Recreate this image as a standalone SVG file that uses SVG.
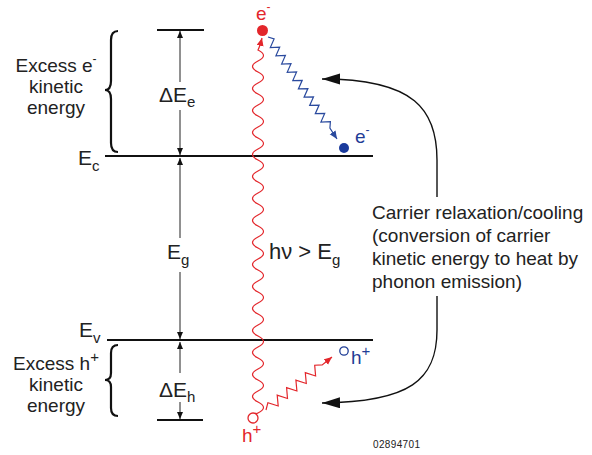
<svg xmlns="http://www.w3.org/2000/svg" width="592" height="455" viewBox="0 0 592 455">
<style>
text{font-family:"Liberation Sans",Arial,sans-serif;fill:#222}
.lbl{font-size:19px}
.big{font-size:21px}
.sub{font-size:15px}
.lvl{stroke:#111;stroke-width:2.2;fill:none}
.thin{stroke:#222;stroke-width:1;fill:none}
.brace{stroke:#111;stroke-width:2.2;fill:none}
.red{fill:#e3262b}
.blue{fill:#1f3d96}
</style>
<defs>
<marker id="ahK" markerUnits="userSpaceOnUse" markerWidth="8" markerHeight="8" refX="7" refY="3" orient="auto"><path d="M0,0 L7,3 L0,6 z" fill="#111"/></marker>
<marker id="ahR" markerUnits="userSpaceOnUse" markerWidth="9" markerHeight="8" refX="8" refY="3.5" orient="auto"><path d="M0,0 L8,3.5 L0,7 z" fill="#e3262b"/></marker>
<marker id="ahB" markerUnits="userSpaceOnUse" markerWidth="9" markerHeight="8" refX="8" refY="3.5" orient="auto"><path d="M0,0 L8,3.5 L0,7 z" fill="#2a4a9e"/></marker>
<marker id="ahBig" markerUnits="userSpaceOnUse" markerWidth="20" markerHeight="12" refX="18" refY="5.5" orient="auto"><path d="M0,0 L18,5.5 L0,11 z" fill="#111"/></marker>
</defs>

<g id="levels">
<path class="lvl" d="M157,30 H204"/>
<path class="lvl" d="M105,156 H373"/>
<path class="lvl" d="M107,340 H373"/>
<path class="lvl" d="M157,420 H203"/>
</g>

<g id="level-labels">
<text class="big" x="78" y="165">E<tspan class="sub" dy="6">c</tspan></text>
<text class="big" x="79" y="337">E<tspan class="sub" dy="6">v</tspan></text>
</g>

<g id="brace-e">
<path class="brace" d="M118,31 Q111,31 111,40 L111,81 Q111,90 105,90 Q111,90 111,99 L111,143 Q111,152 118,152"/>
<text class="lbl" x="56" y="72" text-anchor="middle">Excess e<tspan font-size="12" dy="-9">-</tspan></text>
<text class="lbl" x="56" y="93" text-anchor="middle">kinetic</text>
<text class="lbl" x="56" y="114" text-anchor="middle">energy</text>
</g>

<g id="brace-h">
<path class="brace" d="M118,345 Q111,345 111,353 L111,373 Q111,380 105,380 Q111,380 111,387 L111,408 Q111,416 118,416"/>
<text class="lbl" x="56" y="370" text-anchor="middle">Excess h<tspan font-size="15" dy="-8">+</tspan></text>
<text class="lbl" x="56" y="391" text-anchor="middle">kinetic</text>
<text class="lbl" x="56" y="412" text-anchor="middle">energy</text>
</g>

<g id="dEe"><text class="big" x="159" y="102">ΔE<tspan class="sub" dy="5">e</tspan></text></g>
<g id="Eg"><text class="big" x="167" y="259">E<tspan class="sub" dy="6">g</tspan></text></g>
<g id="dEh"><text class="big" x="159" y="397">ΔE<tspan class="sub" dy="5">h</tspan></text></g>
<g id="photon-label"><text font-size="22" x="269" y="259">hν &gt; E<tspan class="sub" dy="6">g</tspan></text></g>

<g id="electron-hot">
<circle cx="262.5" cy="30.5" r="5.5" fill="#e3262b"/>
<text class="red" font-size="19" x="256" y="20">e<tspan font-size="12" dy="-9">-</tspan></text>
</g>
<g id="electron-cool">
<circle cx="344" cy="148" r="5" fill="#1a3a9c"/>
<text class="blue" font-size="19" x="355" y="143">e<tspan font-size="12" dy="-9">-</tspan></text>
</g>
<g id="hole-hot">
<circle cx="253" cy="418" r="5" fill="none" stroke="#e3262b" stroke-width="1.3"/>
<text class="red" font-size="19" x="242" y="442">h<tspan font-size="15" dy="-8">+</tspan></text>
</g>
<g id="hole-cool">
<circle cx="344" cy="351" r="4.2" fill="none" stroke="#1f3d96" stroke-width="1.3"/>
<text class="blue" font-size="19" x="351" y="364">h<tspan font-size="15" dy="-8">+</tspan></text>
</g>

<g id="explanation">
<text class="lbl" x="372" y="219">Carrier relaxation/cooling</text>
<text class="lbl" x="372" y="242">(conversion of carrier</text>
<text class="lbl" x="372" y="265">kinetic energy to heat by</text>
<text class="lbl" x="372" y="288">phonon emission)</text>
</g>

<g id="code"><text x="373" y="448" font-size="10" textLength="47" fill="#333">02894701</text></g>

<g id="connectors">
<path class="thin" marker-end="url(#ahK)" d="M180,82 V31"/>
<path class="thin" marker-end="url(#ahK)" d="M180,110 V155"/>
<path class="thin" marker-end="url(#ahK)" d="M180,238 V158"/>
<path class="thin" marker-end="url(#ahK)" d="M180,272 V339"/>
<path class="thin" marker-end="url(#ahK)" d="M180,373 V342"/>
<path class="thin" marker-end="url(#ahK)" d="M180,402 V419"/>

<path fill="none" stroke="#e3262b" stroke-width="1.2" marker-end="url(#ahR)" d="M255,413 Q256,414 258,413 q11,-5.5 0,-11 t0,-11 t0,-11 t0,-11 t0,-11 t0,-11 t0,-11 t0,-11 t0,-11 t0,-11 t0,-11 t0,-11 t0,-11 t0,-11 t0,-11 t0,-11 t0,-11 t0,-11 t0,-11 t0,-11 t0,-11 t0,-11 t0,-11 t0,-11 t0,-11 t0,-11 t0,-11 t0,-11 t0,-11 t0,-11 t0,-11 t0,-11 t0,-11 Q260,46 262,38"/>

<polyline fill="none" stroke="#2a4a9e" stroke-width="1.2" marker-end="url(#ahB)" points="268,37 274.1,38.9 270.3,47.5 279.7,47.2 275.9,55.8 285.4,55.5 281.6,64.1 291.0,63.7 287.2,72.3 296.6,72.0 292.8,80.6 302.2,80.3 298.4,88.9 307.9,88.6 304.1,97.2 313.5,96.9 309.7,105.4 319.1,105.1 315.3,113.7 324.7,113.4 320.9,122.0 330.4,121.7 329.9,128.1 337,139"/>

<polyline fill="none" stroke="#e3262b" stroke-width="1.2" marker-end="url(#ahR)" points="266,410 267.9,402.7 278.2,406.0 277.2,395.2 287.5,398.5 286.6,387.7 296.9,391.0 295.9,380.2 306.3,383.5 305.3,372.7 315.6,376.0 314.7,365.2 322.2,364.9 332,357"/>

<path fill="none" stroke="#111" stroke-width="1.4" marker-end="url(#ahBig)" d="M437,197 L437,160 C437,110 415,79 322,79"/>
<path fill="none" stroke="#111" stroke-width="1.4" marker-end="url(#ahBig)" d="M437,296 L437,330 C437,380 410,402 322,403"/>
</g>
</svg>
